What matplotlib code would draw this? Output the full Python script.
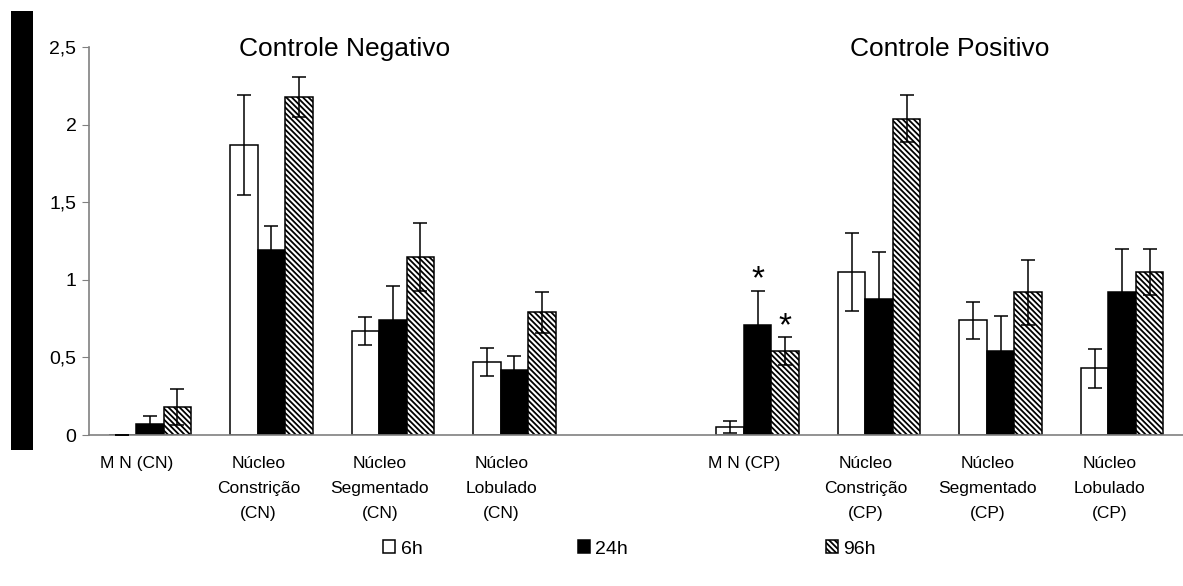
import numpy as np
import matplotlib
matplotlib.use("Agg")
import matplotlib.pyplot as plt
import matplotlib.transforms as mtransforms
from matplotlib.patches import Rectangle

plt.rcParams['font.family'] = ['Liberation Sans', 'DejaVu Sans']
plt.rcParams['hatch.linewidth'] = 1.3

# ---------------- data ----------------
categories = ["M N (CN)", "Núcleo\nConstrição\n(CN)", "Núcleo\nSegmentado\n(CN)",
              "Núcleo\nLobulado\n(CN)", "",
              "M N (CP)", "Núcleo\nConstrição\n(CP)", "Núcleo\nSegmentado\n(CP)",
              "Núcleo\nLobulado\n(CP)"]
series_names = ["6h", "24h", "96h"]
v6 = [0.00, 1.87, 0.67, 0.47, None, 0.05, 1.05, 0.74, 0.43]
e6 = [0.00, 0.32, 0.09, 0.09, None, 0.04, 0.25, 0.12, 0.125]
v24 = [0.07, 1.19, 0.74, 0.42, None, 0.71, 0.88, 0.54, 0.92]
e24 = [0.05, 0.16, 0.22, 0.09, None, 0.22, 0.30, 0.23, 0.28]
v96 = [0.18, 2.18, 1.15, 0.79, None, 0.54, 2.04, 0.92, 1.05]
e96 = [0.115, 0.13, 0.22, 0.13, None, 0.09, 0.15, 0.21, 0.15]
yticks = [0, 0.5, 1, 1.5, 2, 2.5]
ytick_labels = ["0", "0,5", "1", "1,5", "2", "2,5"]
group_titles = ["Controle Negativo", "Controle Positivo"]
# significance markers: (category index, series index)
stars = [(5, 1), (5, 2)]

# ---------------- figure ----------------
fig = plt.figure(figsize=(11.83, 5.86), dpi=100)
ax = fig.add_axes([89 / 1183, 151 / 586, 1 - 89 / 1183, (435 - 47.3) / 586])

# black strip on the left edge
fig.patches.append(Rectangle((11 / 1183, 136 / 586), 22 / 1183, 439 / 586,
                             transform=fig.transFigure, facecolor='black',
                             edgecolor='none'))

x_all = np.arange(len(categories))
valid = np.array([v is not None for v in v6])
xv = x_all[valid]
w = 0.226
styles = [dict(facecolor='white', edgecolor='black', hatch=None),
          dict(facecolor='black', edgecolor='black', hatch=None),
          dict(facecolor='white', edgecolor='black', hatch='\\\\\\\\\\\\')]
vals = [v6, v24, v96]
errs = [e6, e24, e96]
handles = []
for i, (vs, es, st) in enumerate(zip(vals, errs, styles)):
    h = np.array([v for v in vs if v is not None])
    e = np.array([v for v in es if v is not None])
    pos = xv + (i - 1) * w
    b = ax.bar(pos, h, width=w, linewidth=1.1, zorder=2, **st,
               label=series_names[i])
    ax.errorbar(pos, h, yerr=e, fmt='none', ecolor='black', elinewidth=1.1,
                capsize=5, capthick=1.1, zorder=3)
    handles.append(b)

for ci, si in stars:
    hv = vals[si][ci] + errs[si][ci]
    ax.text(x_all[ci] + (si - 1) * w, hv - 0.03, "*", ha='center',
            va='bottom', fontsize=24, color='black', zorder=4)

ax.set_xlim(-0.5, len(categories) - 0.5)
ax.set_ylim(0, 2.5)
ax.set_yticks(yticks)
ax.set_yticklabels(ytick_labels, fontsize=14)
ax.tick_params(axis='y', direction='out', length=5, color='#808080', pad=4)
ax.set_xticks(x_all)
ax.set_xticklabels(categories, fontsize=12.5, linespacing=1.85)
ax.tick_params(axis='x', length=0, pad=15)
offset = mtransforms.ScaledTranslation(-13 / 100, 0, fig.dpi_scale_trans)
for lab in ax.get_xticklabels():
    lab.set_transform(lab.get_transform() + offset)
    lab.set_multialignment('center')

for s in ['top', 'right']:
    ax.spines[s].set_visible(False)
for s in ['left', 'bottom']:
    ax.spines[s].set_color('#808080')
    ax.spines[s].set_linewidth(1.2)

ax.text(1.6, 2.49, group_titles[0], ha='center', va='center', fontsize=19)
ax.text(6.58, 2.49, group_titles[1], ha='center', va='center', fontsize=19)

# legend: three separate entries
leg_x = [383 / 1183, 578 / 1183, 826 / 1183]
for hnd, name, lx in zip(handles, series_names, leg_x):
    lg = fig.legend([hnd], [name], loc='center left',
                    bbox_to_anchor=(lx, 1 - 549 / 586), frameon=False,
                    fontsize=14, handlelength=0.6, handleheight=0.6,
                    handletextpad=0.3, borderpad=0, borderaxespad=0)

fig.savefig("out.png", dpi=100)
